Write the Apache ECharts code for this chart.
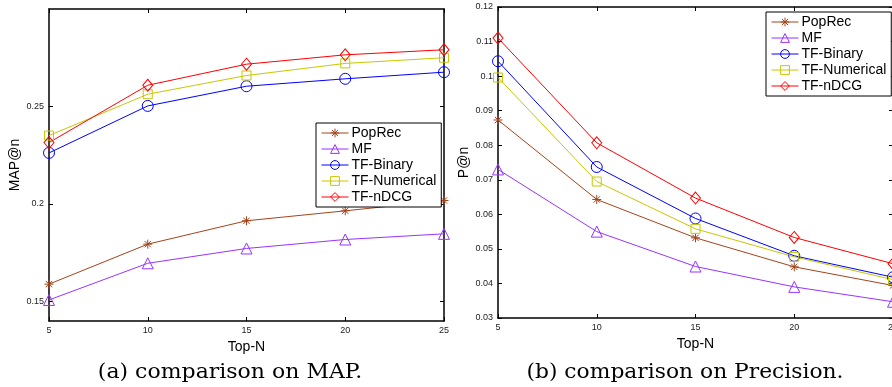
<!DOCTYPE html>
<html>
<head>
<meta charset="utf-8">
<script src="https://cdn.jsdelivr.net/npm/echarts@6/dist/echarts.min.js"></script>
<style>html,body{margin:0;padding:0;background:#fff}#c{width:892px;height:387px}</style>
</head>
<body>
<div id="c"></div>
<script>
const topN = [5, 10, 15, 20, 25];
const seriesNames = ['PopRec', 'MF', 'TF-Binary', 'TF-Numerical', 'TF-nDCG'];
const mapPopRec = [0.1589, 0.1794, 0.1914, 0.1965, 0.2018];
const mapMF = [0.1508, 0.1696, 0.1772, 0.1818, 0.1847];
const mapBinary = [0.2262, 0.2503, 0.2604, 0.2642, 0.2676];
const mapNumerical = [0.2351, 0.2563, 0.2659, 0.2721, 0.2750];
const mapNDCG = [0.2315, 0.2609, 0.2717, 0.2765, 0.2791];
const pPopRec = [0.0873, 0.0643, 0.0532, 0.0448, 0.0394];
const pMF = [0.0730, 0.0550, 0.0449, 0.0390, 0.0347];
const pBinary = [0.1043, 0.0737, 0.0588, 0.0480, 0.0418];
const pNumerical = [0.0996, 0.0695, 0.0558, 0.0477, 0.0411];
const pNDCG = [0.1110, 0.0807, 0.0647, 0.0533, 0.0457];
const mapTicks = [0.15, 0.2, 0.25];
const captions = ['(a) comparison on MAP.', '(b) comparison on Precision.'];

const colors = ['#a3441a', '#9933ff', '#0000ff', '#c8c800', '#ff0000'];
const star = 'path://M0,-5L0,5M-5,0L5,0M-3.5,-3.5L3.5,3.5M-3.5,3.5L3.5,-3.5';
const symbols = [star, 'triangle', 'circle', 'rect', 'diamond'];
const sizes = [9, 11, 11, 9, [10, 12]];

const mapData = [mapPopRec, mapMF, mapBinary, mapNumerical, mapNDCG];
const pData = [pPopRec, pMF, pBinary, pNumerical, pNDCG];

function mkSeries(vals, i, axisIdx) {
  return {
    name: seriesNames[i], type: 'line',
    xAxisIndex: axisIdx, yAxisIndex: axisIdx,
    data: topN.map((x, k) => [x, vals[k]]),
    symbol: symbols[i], symbolSize: sizes[i], showAllSymbol: true,
    lineStyle: { color: colors[i], width: 1 },
    itemStyle: { color: 'rgba(0,0,0,0)', borderColor: colors[i], borderWidth: 1 },
    emphasis: { disabled: true }, animation: false, clip: false
  };
}

const axLine = { show: true, lineStyle: { color: '#000', width: 1.5 } };
const tick = { show: true, inside: true, length: 4, lineStyle: { color: '#000', width: 1 } };
const lbl = { fontSize: 9, color: '#222', fontFamily: 'Liberation Sans', margin: 5 };
const nameStyle = { fontSize: 14, color: '#000', fontFamily: 'Liberation Sans' };

function xAxes(grid) {
  return [
    { gridIndex: grid, type: 'value', position: 'bottom', min: 5, max: 25, interval: 5,
      axisLine: axLine, axisTick: tick, axisLabel: lbl, splitLine: { show: false },
      name: 'Top-N', nameLocation: 'middle', nameGap: 13, nameTextStyle: nameStyle },
    { gridIndex: grid, type: 'value', position: 'top', min: 5, max: 25, interval: 5,
      axisLine: axLine, axisTick: tick, axisLabel: { show: false }, splitLine: { show: false } }
  ];
}

const legendBase = {
  orient: 'vertical', data: seriesNames, itemWidth: 27, itemHeight: 11, itemGap: 0,
  padding: [2, 5, 2, 5], borderColor: '#000', borderWidth: 1, backgroundColor: '#fff',
  lineStyle: { width: 1 }, itemStyle: { borderWidth: 1 }, symbolKeepAspect: true,
  textStyle: { fontSize: 14, color: '#000', fontFamily: 'Liberation Sans', lineHeight: 16, padding: [0, 0, 0, -2] },
  selectedMode: false
};

const capStyle = { fontFamily: 'DejaVu Serif', fontSize: 20, fill: '#000', textAlign: 'center', textVerticalAlign: 'top' };

const option = {
  backgroundColor: '#fff',
  animation: false,
  graphic: [
    { type: 'text', x: 230, y: 363, scaleX: 1.1, originX: 0, originY: 0,
      style: Object.assign({ text: captions[0] }, capStyle) },
    { type: 'text', x: 685, y: 363, scaleX: 1.09, originX: 0, originY: 0,
      style: Object.assign({ text: captions[1] }, capStyle) }
  ],
  legend: [
    Object.assign({ left: 316, top: 123 }, legendBase),
    Object.assign({ left: 766, top: 12 }, legendBase)
  ],
  grid: [
    { left: 49, top: 9, right: 448, bottom: 66, outerBoundsMode: 'none', containLabel: false },
    { left: 498, top: 7, right: -1, bottom: 69, outerBoundsMode: 'none', containLabel: false }
  ],
  xAxis: xAxes(0).concat(xAxes(1)),
  yAxis: [
    { gridIndex: 0, type: 'value', position: 'left', min: 0.14, max: 0.3,
      axisLine: axLine, axisTick: Object.assign({ customValues: mapTicks }, tick),
      axisLabel: Object.assign({ customValues: mapTicks }, lbl), splitLine: { show: false },
      name: 'MAP@n', nameLocation: 'middle', nameGap: 23, nameTextStyle: nameStyle },
    { gridIndex: 0, type: 'value', position: 'right', min: 0.14, max: 0.3,
      axisLine: axLine, axisTick: Object.assign({ customValues: mapTicks }, tick),
      axisLabel: { show: false }, splitLine: { show: false } },
    { gridIndex: 1, type: 'value', position: 'left', min: 0.03, max: 0.12, interval: 0.01,
      axisLine: axLine, axisTick: tick, axisLabel: lbl, splitLine: { show: false },
      name: 'P@n', nameLocation: 'middle', nameGap: 22, nameTextStyle: nameStyle },
    { gridIndex: 1, type: 'value', position: 'right', min: 0.03, max: 0.12, interval: 0.01,
      axisLine: axLine, axisTick: tick, axisLabel: { show: false }, splitLine: { show: false } }
  ],
  series: mapData.map((v, i) => mkSeries(v, i, 0)).concat(pData.map((v, i) => mkSeries(v, i, 2)))
};

const chart = echarts.init(document.getElementById('c'), null, { renderer: 'canvas' });
chart.setOption(option);
</script>
</body>
</html>
